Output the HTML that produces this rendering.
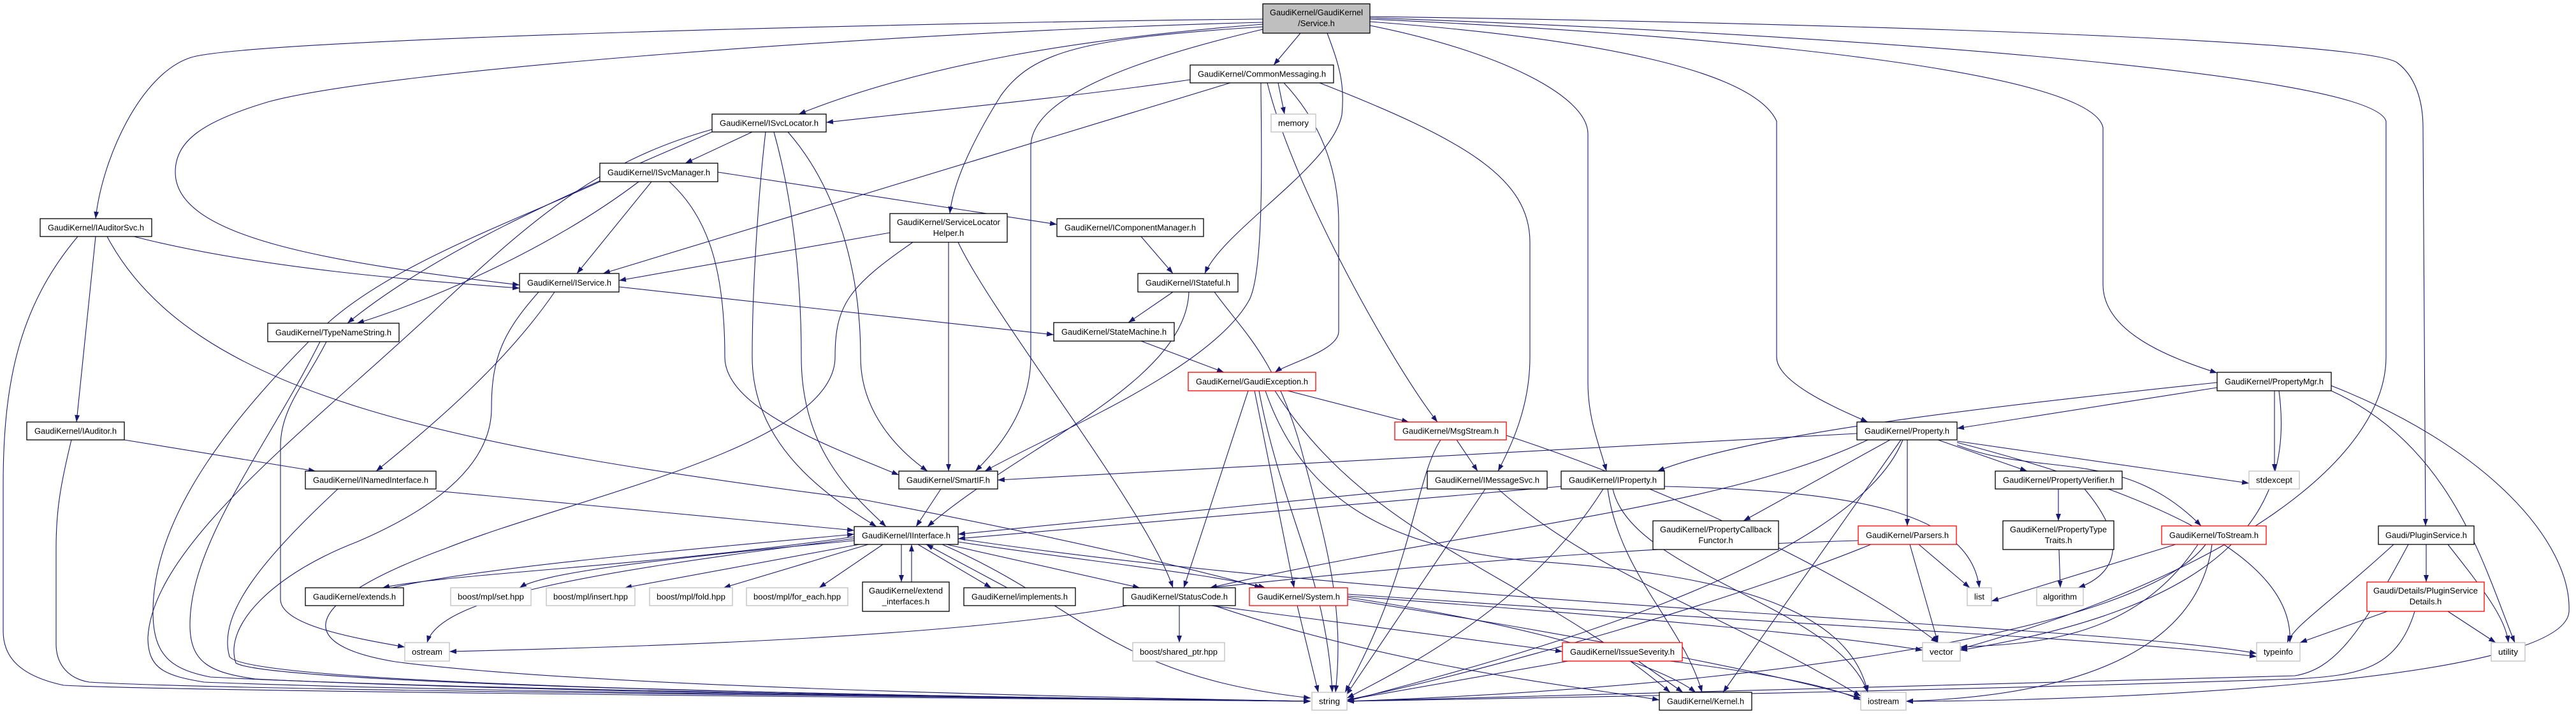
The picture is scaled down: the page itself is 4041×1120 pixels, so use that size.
<!DOCTYPE html>
<html><head><meta charset="utf-8"><style>
html,body{margin:0;padding:0;background:#fff;}
svg{display:block;}
text{font-family:"Liberation Sans",Arial,sans-serif;font-size:13px;fill:#000;}
.e{fill:none;stroke:#191970;stroke-width:1.1;marker-end:url(#a);}
.n{fill:#fff;stroke:#000;stroke-width:1.3;}
.g{fill:#fff;stroke:#bfbfbf;stroke-width:1.3;}
.r{fill:#fff;stroke:#ff0000;stroke-width:1.3;}
.m{fill:#bfbfbf;stroke:#000;stroke-width:1.3;}
</style></head><body>
<svg width="4041" height="1120" viewBox="0 0 4041 1120" xmlns="http://www.w3.org/2000/svg">
<defs><marker id="a" markerUnits="userSpaceOnUse" markerWidth="12" markerHeight="9" refX="11" refY="4" orient="auto"><path d="M0,0 L11,4 L0,8 z" fill="#191970"/></marker></defs>
<g>
<!-- Service.h -->
<path class="e" d="M1981,30 C1500,34 400,60 300,90 C220,115 160,250 150,343"/>
<path class="e" d="M1981,35 C1400,50 600,110 420,160 C320,190 275,220 275,270 C275,370 500,410 815,447"/>
<path class="e" d="M1981,38 C1700,60 1450,100 1253,179"/>
<path class="e" d="M2040,52 L1998,102"/>
<path class="e" d="M1981,42 C1700,60 1620,80 1570,150 C1520,230 1495,290 1490,335"/>
<path class="e" d="M1981,46 C1750,100 1617,160 1617,230 L1617,560 C1617,640 1570,700 1530,739"/>
<path class="e" d="M2082,52 C2100,100 2110,130 2105,180 C2090,260 1920,360 1890,429"/>
<path class="e" d="M2149,40 C2350,80 2491,150 2491,210 L2491,600 C2491,660 2510,700 2520,739"/>
<path class="e" d="M2149,34 C2500,60 2750,110 2787,190 L2787,560 C2787,600 2880,640 2930,662"/>
<path class="e" d="M2149,30 C2700,55 3280,110 3299,200 L3299,446 C3299,520 3400,560 3478,585"/>
<path class="e" d="M2149,28 C2800,50 3720,110 3743,190 L3743,560 C3743,720 3500,900 3075,1018"/>
<path class="e" d="M2149,26 C2800,35 3700,60 3760,98 C3790,120 3801,160 3801,200 L3805,825"/>
<!-- CommonMessaging -->
<path class="e" d="M1867,125 C1700,150 1450,175 1296,192"/>
<path class="e" d="M1930,130 L946,429"/>
<path class="e" d="M2005,130 L2015,179"/>
<path class="e" d="M1978,130 C1978,200 1985,420 1960,470 C1900,580 1650,680 1545,739"/>
<path class="e" d="M1988,130 C2030,300 2190,580 2255,662"/>
<path class="e" d="M2014,130 C2080,200 2100,280 2100,350 L2100,520 C2100,550 2020,570 2000,584"/>
<path class="e" d="M2070,130 C2300,220 2400,280 2400,380 L2400,560 C2400,640 2370,700 2350,739"/>
<!-- ISvcLocator -->
<path class="e" d="M1180,207 L1075,256"/>
<path class="e" d="M1117,207 C950,280 700,380 545,507"/>
<path class="e" d="M1117,203 C950,250 850,330 700,470 C500,660 240,850 232,1000 C232,1050 260,1060 320,1070 C700,1085 1600,1095 2056,1100"/>
<path class="e" d="M1201,207 C1190,300 1180,450 1180,560 C1180,700 1300,780 1375,826"/>
<path class="e" d="M1214,207 C1240,300 1257,420 1257,560 C1257,700 1330,770 1390,826"/>
<path class="e" d="M1236,207 C1300,280 1350,400 1350,560 C1350,640 1400,700 1455,739"/>
<!-- ISvcManager -->
<path class="e" d="M1022,285 L905,429"/>
<path class="e" d="M1002,285 C850,400 650,480 560,507"/>
<path class="e" d="M1126,270 L1658,352"/>
<path class="e" d="M941,285 C800,350 600,420 500,520 C380,640 240,800 240,960 C240,1030 270,1050 330,1062 C700,1082 1600,1094 2056,1100"/>
<path class="e" d="M1050,285 C1110,340 1137,420 1137,560 C1137,640 1300,700 1410,745"/>
<!-- IAuditorSvc -->
<path class="e" d="M210,371 C400,420 650,440 815,452"/>
<path class="e" d="M150,371 L120,662"/>
<path class="e" d="M122,371 C30,480 5,600 5,760 L5,990 C5,1030 30,1060 100,1075 C300,1085 1500,1095 2056,1100"/>
<path class="e" d="M168,371 C300,620 700,700 1350,783 C1700,850 1900,900 1979,922"/>
<!-- IService -->
<path class="e" d="M971,450 L1653,525"/>
<path class="e" d="M870,458 C800,560 700,650 590,739"/>
<path class="e" d="M845,458 C790,520 771,560 771,640 C771,720 700,790 560,850 C430,900 350,980 370,1040 C400,1060 800,1085 2056,1100"/>
<!-- TypeNameString -->
<path class="e" d="M502,536 C420,700 298,850 298,980 C298,1040 330,1055 400,1065 C800,1085 1600,1095 2056,1100"/>
<path class="e" d="M512,536 C480,600 440,640 440,700 L440,940 C440,980 550,1000 635,1015"/>
<!-- IAuditor -->
<path class="e" d="M195,690 L495,739"/>
<path class="e" d="M112,690 C95,760 88,800 88,860 L88,1010 C88,1045 110,1065 140,1070 C400,1085 1600,1093 2056,1100"/>
<!-- INamedInterface -->
<path class="e" d="M684,770 L1340,832"/>
<path class="e" d="M530,767 C420,870 340,960 360,1030 C380,1060 800,1085 2056,1100"/>
<!-- ServiceLocatorHelper -->
<path class="e" d="M1396,365 L971,440"/>
<path class="e" d="M1488,380 L1488,739"/>
<path class="e" d="M1503,380 C1560,500 1800,800 1840,922"/>
<path class="e" d="M1432,380 C1330,450 1310,480 1310,560 C1310,700 900,780 700,860 C480,940 450,1010 620,1038 C900,1075 1600,1092 2056,1100"/>
<!-- IComponentManager / IStateful / StateMachine -->
<path class="e" d="M1790,371 L1840,429"/>
<path class="e" d="M1840,458 L1770,506"/>
<path class="e" d="M1865,458 C1860,600 1600,700 1455,826"/>
<path class="e" d="M1905,458 C1950,520 2000,560 2040,700 C2080,850 2110,950 2095,1086"/>
<path class="e" d="M1790,535 L1920,584"/>
<!-- GaudiException -->
<path class="e" d="M2020,613 L2210,662"/>
<path class="e" d="M1958,613 L1857,922"/>
<path class="e" d="M1968,613 L2030,922"/>
<path class="e" d="M1975,613 C2010,800 2080,900 2090,1086"/>
<path class="e" d="M2000,613 C2150,850 2400,900 2620,1086"/>
<path class="e" d="M1985,613 C2050,800 2200,860 2400,880 C2700,900 2900,950 2930,1086"/>
<!-- MsgStream -->
<path class="e" d="M2285,690 L2318,739"/>
<path class="e" d="M2260,690 C2220,750 2215,900 2110,1086"/>
<path class="e" d="M2363,683 C2600,760 2900,900 3040,1008"/>
<!-- IMessageSvc -->
<path class="e" d="M2239,765 L1503,838"/>
<path class="e" d="M2330,767 L2112,1090"/>
<path class="e" d="M2350,767 C2500,900 2700,960 2919,1092"/>
<!-- IProperty -->
<path class="e" d="M2449,763 L1503,845"/>
<path class="e" d="M2515,767 C2400,950 2200,1050 2113,1095"/>
<path class="e" d="M2522,767 C2540,900 2640,980 2670,1086"/>
<path class="e" d="M2530,767 C2560,900 2880,950 2930,1086"/>
<path class="e" d="M2611,763 C2900,770 3090,800 3105,922"/>
<!-- Property.h -->
<path class="e" d="M2913,680 L1565,753"/>
<path class="e" d="M2965,690 L2735,817"/>
<path class="e" d="M2992,690 L2992,825"/>
<path class="e" d="M3040,690 L3180,739"/>
<path class="e" d="M3070,698 C3200,750 3330,700 3453,825"/>
<path class="e" d="M3070,692 L3528,758"/>
<path class="e" d="M3070,694 C3400,780 3600,880 3592,1008"/>
<path class="e" d="M2985,690 C2900,900 2300,1050 2113,1100"/>
<path class="e" d="M2982,690 L2703,1086"/>
<path class="e" d="M2930,690 C2700,800 2300,830 1898,922"/>
<!-- PropertyMgr -->
<path class="e" d="M3478,608 L3070,672"/>
<path class="e" d="M3478,600 C3100,640 2750,680 2600,739"/>
<path class="e" d="M3568,613 L3568,739"/>
<path class="e" d="M3575,613 C3600,800 3500,950 3075,1020"/>
<path class="e" d="M3657,613 C3850,700 3900,900 3945,1008"/>
<path class="e" d="M3657,605 C3900,700 4035,850 4030,960 C4020,1070 3300,1100 2990,1100"/>
<!-- PropertyVerifier etc -->
<path class="e" d="M3229,767 L3229,817"/>
<path class="e" d="M3270,767 C3340,850 3320,900 3260,922"/>
<path class="e" d="M3230,862 L3232,922"/>
<!-- Parsers -->
<path class="e" d="M2915,848 C2500,860 2100,900 1898,922"/>
<path class="e" d="M3010,854 L3090,922"/>
<path class="e" d="M2996,854 L3040,1008"/>
<path class="e" d="M2935,854 C2700,950 2300,1060 2113,1098"/>
<!-- ToStream -->
<path class="e" d="M3413,854 L3124,943"/>
<path class="e" d="M3448,854 C3350,1000 3200,1010 3075,1015"/>
<path class="e" d="M3460,854 C3350,1000 2700,1080 2113,1100"/>
<path class="e" d="M3470,854 C3450,1000 3300,1090 2990,1100"/>
<!-- PluginService -->
<path class="e" d="M3806,854 L3806,913"/>
<path class="e" d="M3755,854 C3650,950 3600,980 3588,1008"/>
<path class="e" d="M3840,854 C3900,930 3930,970 3935,1008"/>
<path class="e" d="M3778,854 C3700,1000 3660,1050 3600,1060 C3000,1080 2400,1095 2113,1100"/>
<path class="e" d="M3745,959 L3608,1008"/>
<path class="e" d="M3840,959 L3915,1008"/>
<path class="e" d="M3788,959 C3760,1050 3700,1060 3600,1065 C3000,1085 2400,1095 2113,1100"/>
<!-- IInterface -->
<path class="e" d="M1340,842 C1000,890 700,900 600,922"/>
<path class="e" d="M615,922 C750,890 1100,860 1340,838"/>
<path class="e" d="M1340,848 C1000,880 850,900 815,922"/>
<path class="e" d="M1348,854 L980,922"/>
<path class="e" d="M1362,854 L1135,922"/>
<path class="e" d="M1385,854 L1285,922"/>
<path class="e" d="M1340,845 C900,900 690,940 670,1008"/>
<path class="e" d="M1414,854 L1414,913"/>
<path class="e" d="M1430,913 L1430,854"/>
<path class="e" d="M1440,854 L1555,922"/>
<path class="e" d="M1580,922 L1453,854"/>
<path class="e" d="M1485,854 L1788,922"/>
<path class="e" d="M1503,850 C1700,880 1900,900 1985,922"/>
<path class="e" d="M1503,845 C2200,950 3300,980 3540,1025"/>
<path class="e" d="M1478,854 C1700,950 1740,1060 2056,1095"/>
<path class="e" d="M1476,767 L1437,826"/>
<!-- StatusCode -->
<path class="e" d="M1850,950 L1850,1008"/>
<path class="e" d="M1768,950 C1500,1000 1000,1015 705,1022"/>
<path class="e" d="M1900,950 L2451,1022"/>
<path class="e" d="M1905,950 C2200,1050 2500,1080 2603,1098"/>
<!-- System -->
<path class="e" d="M2035,950 L2068,1086"/>
<path class="e" d="M2114,937 C2400,980 2600,1040 2660,1086"/>
<path class="e" d="M2114,932 C2800,980 3300,1000 3540,1030"/>
<path class="e" d="M2114,935 C2600,970 2900,1000 3016,1020"/>
<path class="e" d="M2114,940 C2500,1000 2800,1060 2919,1095"/>
<!-- IssueSeverity -->
<path class="e" d="M2460,1037 L2113,1098"/>
<path class="e" d="M2570,1037 L2640,1086"/>
<path class="e" d="M2620,1037 C2800,1060 2880,1080 2919,1098"/>
</g>
<g>
<rect class="m" x="1981" y="6" width="168" height="46"/><text x="2065" y="24" text-anchor="middle" textLength="146" lengthAdjust="spacingAndGlyphs">GaudiKernel/GaudiKernel</text><text x="2065" y="41" text-anchor="middle">/Service.h</text>
<rect class="n" x="1867" y="102" width="225" height="28"/><text x="1979.5" y="120.5" text-anchor="middle" textLength="201" lengthAdjust="spacingAndGlyphs">GaudiKernel/CommonMessaging.h</text>
<rect class="g" x="1994" y="179" width="70" height="28"/><text x="2029" y="197.5" text-anchor="middle" textLength="48" lengthAdjust="spacingAndGlyphs">memory</text>
<rect class="n" x="1117" y="179" width="179" height="28"/><text x="1206.5" y="197.5" text-anchor="middle" textLength="155" lengthAdjust="spacingAndGlyphs">GaudiKernel/ISvcLocator.h</text>
<rect class="n" x="941" y="256" width="185" height="29"/><text x="1033.5" y="275" text-anchor="middle" textLength="161" lengthAdjust="spacingAndGlyphs">GaudiKernel/ISvcManager.h</text>
<rect class="n" x="63" y="343" width="175" height="28"/><text x="150.5" y="361.5" text-anchor="middle" textLength="151" lengthAdjust="spacingAndGlyphs">GaudiKernel/IAuditorSvc.h</text>
<rect class="n" x="1396" y="335" width="184" height="45"/><text x="1488" y="353" text-anchor="middle" textLength="162" lengthAdjust="spacingAndGlyphs">GaudiKernel/ServiceLocator</text><text x="1488" y="370" text-anchor="middle">Helper.h</text>
<rect class="n" x="1658" y="343" width="230" height="28"/><text x="1773" y="361.5" text-anchor="middle" textLength="206" lengthAdjust="spacingAndGlyphs">GaudiKernel/IComponentManager.h</text>
<rect class="n" x="815" y="429" width="156" height="29"/><text x="893" y="448" text-anchor="middle" textLength="132" lengthAdjust="spacingAndGlyphs">GaudiKernel/IService.h</text>
<rect class="n" x="1785" y="429" width="157" height="29"/><text x="1863.5" y="448" text-anchor="middle" textLength="133" lengthAdjust="spacingAndGlyphs">GaudiKernel/IStateful.h</text>
<rect class="n" x="420" y="507" width="206" height="29"/><text x="523" y="526" text-anchor="middle" textLength="182" lengthAdjust="spacingAndGlyphs">GaudiKernel/TypeNameString.h</text>
<rect class="n" x="1653" y="506" width="189" height="29"/><text x="1747.5" y="525" text-anchor="middle" textLength="165" lengthAdjust="spacingAndGlyphs">GaudiKernel/StateMachine.h</text>
<rect class="r" x="1864" y="584" width="200" height="29"/><text x="1964" y="603" text-anchor="middle" textLength="176" lengthAdjust="spacingAndGlyphs">GaudiKernel/GaudiException.h</text>
<rect class="n" x="3478" y="584" width="179" height="29"/><text x="3567.5" y="603" text-anchor="middle" textLength="155" lengthAdjust="spacingAndGlyphs">GaudiKernel/PropertyMgr.h</text>
<rect class="n" x="42" y="662" width="153" height="28"/><text x="118.5" y="680.5" text-anchor="middle" textLength="129" lengthAdjust="spacingAndGlyphs">GaudiKernel/IAuditor.h</text>
<rect class="r" x="2188" y="662" width="175" height="28"/><text x="2275.5" y="680.5" text-anchor="middle" textLength="151" lengthAdjust="spacingAndGlyphs">GaudiKernel/MsgStream.h</text>
<rect class="n" x="2913" y="662" width="157" height="28"/><text x="2991.5" y="680.5" text-anchor="middle" textLength="133" lengthAdjust="spacingAndGlyphs">GaudiKernel/Property.h</text>
<rect class="n" x="479" y="739" width="205" height="28"/><text x="581.5" y="757.5" text-anchor="middle" textLength="181" lengthAdjust="spacingAndGlyphs">GaudiKernel/INamedInterface.h</text>
<rect class="n" x="1410" y="739" width="155" height="28"/><text x="1487.5" y="757.5" text-anchor="middle" textLength="131" lengthAdjust="spacingAndGlyphs">GaudiKernel/SmartIF.h</text>
<rect class="n" x="2239" y="739" width="188" height="28"/><text x="2333" y="757.5" text-anchor="middle" textLength="164" lengthAdjust="spacingAndGlyphs">GaudiKernel/IMessageSvc.h</text>
<rect class="n" x="2449" y="739" width="162" height="28"/><text x="2530" y="757.5" text-anchor="middle" textLength="138" lengthAdjust="spacingAndGlyphs">GaudiKernel/IProperty.h</text>
<rect class="n" x="3130" y="739" width="199" height="28"/><text x="3229.5" y="757.5" text-anchor="middle" textLength="175" lengthAdjust="spacingAndGlyphs">GaudiKernel/PropertyVerifier.h</text>
<rect class="g" x="3528" y="739" width="79" height="28"/><text x="3567.5" y="757.5" text-anchor="middle" textLength="57" lengthAdjust="spacingAndGlyphs">stdexcept</text>
<rect class="n" x="2593" y="817" width="197" height="45"/><text x="2691.5" y="835" text-anchor="middle" textLength="175" lengthAdjust="spacingAndGlyphs">GaudiKernel/PropertyCallback</text><text x="2691.5" y="852" text-anchor="middle">Functor.h</text>
<rect class="n" x="1340" y="826" width="163" height="28"/><text x="1421.5" y="844.5" text-anchor="middle" textLength="139" lengthAdjust="spacingAndGlyphs">GaudiKernel/IInterface.h</text>
<rect class="r" x="2915" y="825" width="154" height="29"/><text x="2992" y="844" text-anchor="middle" textLength="130" lengthAdjust="spacingAndGlyphs">GaudiKernel/Parsers.h</text>
<rect class="n" x="3142" y="817" width="174" height="45"/><text x="3229" y="835" text-anchor="middle" textLength="152" lengthAdjust="spacingAndGlyphs">GaudiKernel/PropertyType</text><text x="3229" y="852" text-anchor="middle">Traits.h</text>
<rect class="r" x="3391" y="825" width="164" height="29"/><text x="3473" y="844" text-anchor="middle" textLength="140" lengthAdjust="spacingAndGlyphs">GaudiKernel/ToStream.h</text>
<rect class="n" x="3731" y="825" width="150" height="29"/><text x="3806" y="844" text-anchor="middle" textLength="128" lengthAdjust="spacingAndGlyphs">Gaudi/PluginService.h</text>
<rect class="n" x="1353" y="913" width="136" height="46"/><text x="1421" y="931" text-anchor="middle" textLength="116" lengthAdjust="spacingAndGlyphs">GaudiKernel/extend</text><text x="1421" y="948" text-anchor="middle">_interfaces.h</text>
<rect class="r" x="3713" y="913" width="184" height="46"/><text x="3805" y="931" text-anchor="middle" textLength="164" lengthAdjust="spacingAndGlyphs">Gaudi/Details/PluginService</text><text x="3805" y="948" text-anchor="middle">Details.h</text>
<rect class="n" x="479" y="922" width="154" height="28"/><text x="556" y="940.5" text-anchor="middle" textLength="130" lengthAdjust="spacingAndGlyphs">GaudiKernel/extends.h</text>
<rect class="g" x="707" y="922" width="126" height="28"/><text x="770" y="940.5" text-anchor="middle" textLength="104" lengthAdjust="spacingAndGlyphs">boost/mpl/set.hpp</text>
<rect class="g" x="857" y="922" width="139" height="28"/><text x="926.5" y="940.5" text-anchor="middle" textLength="117" lengthAdjust="spacingAndGlyphs">boost/mpl/insert.hpp</text>
<rect class="g" x="1019" y="922" width="130" height="28"/><text x="1084" y="940.5" text-anchor="middle" textLength="108" lengthAdjust="spacingAndGlyphs">boost/mpl/fold.hpp</text>
<rect class="g" x="1171" y="922" width="159" height="28"/><text x="1250.5" y="940.5" text-anchor="middle" textLength="137" lengthAdjust="spacingAndGlyphs">boost/mpl/for_each.hpp</text>
<rect class="n" x="1512" y="922" width="175" height="28"/><text x="1599.5" y="940.5" text-anchor="middle" textLength="151" lengthAdjust="spacingAndGlyphs">GaudiKernel/implements.h</text>
<rect class="n" x="1762" y="922" width="176" height="28"/><text x="1850" y="940.5" text-anchor="middle" textLength="152" lengthAdjust="spacingAndGlyphs">GaudiKernel/StatusCode.h</text>
<rect class="r" x="1960" y="922" width="154" height="28"/><text x="2037" y="940.5" text-anchor="middle" textLength="130" lengthAdjust="spacingAndGlyphs">GaudiKernel/System.h</text>
<rect class="g" x="3086" y="922" width="38" height="28"/><text x="3105" y="940.5" text-anchor="middle" textLength="16" lengthAdjust="spacingAndGlyphs">list</text>
<rect class="g" x="3195" y="922" width="73" height="28"/><text x="3231.5" y="940.5" text-anchor="middle" textLength="53" lengthAdjust="spacingAndGlyphs">algorithm</text>
<rect class="g" x="635" y="1008" width="70" height="29"/><text x="670" y="1027" text-anchor="middle" textLength="48" lengthAdjust="spacingAndGlyphs">ostream</text>
<rect class="g" x="1777" y="1008" width="144" height="29"/><text x="1849" y="1027" text-anchor="middle" textLength="122" lengthAdjust="spacingAndGlyphs">boost/shared_ptr.hpp</text>
<rect class="r" x="2451" y="1008" width="188" height="29"/><text x="2545" y="1027" text-anchor="middle" textLength="164" lengthAdjust="spacingAndGlyphs">GaudiKernel/IssueSeverity.h</text>
<rect class="g" x="3016" y="1008" width="59" height="29"/><text x="3045.5" y="1027" text-anchor="middle" textLength="37" lengthAdjust="spacingAndGlyphs">vector</text>
<rect class="g" x="3540" y="1008" width="68" height="29"/><text x="3574" y="1027" text-anchor="middle" textLength="46" lengthAdjust="spacingAndGlyphs">typeinfo</text>
<rect class="g" x="3908" y="1008" width="53" height="29"/><text x="3934.5" y="1027" text-anchor="middle" textLength="31" lengthAdjust="spacingAndGlyphs">utility</text>
<rect class="g" x="2058" y="1086" width="55" height="28"/><text x="2085.5" y="1104.5" text-anchor="middle" textLength="33" lengthAdjust="spacingAndGlyphs">string</text>
<rect class="n" x="2603" y="1086" width="145" height="28"/><text x="2675.5" y="1104.5" text-anchor="middle" textLength="121" lengthAdjust="spacingAndGlyphs">GaudiKernel/Kernel.h</text>
<rect class="g" x="2919" y="1086" width="71" height="28"/><text x="2954.5" y="1104.5" text-anchor="middle" textLength="49" lengthAdjust="spacingAndGlyphs">iostream</text>
</g>
</svg>
</body></html>
